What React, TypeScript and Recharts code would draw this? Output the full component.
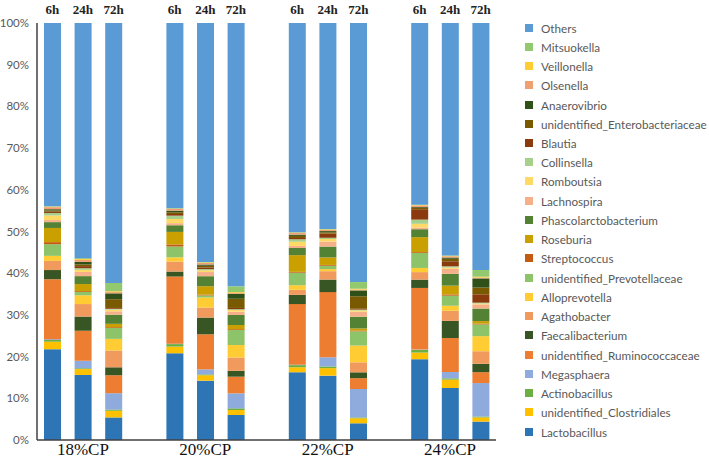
import React from "react";
import { BarChart, Bar, XAxis, YAxis, Legend } from "recharts";

// sample order, with empty slots between the diet groups
const groups = ["18%CP", "20%CP", "22%CP", "24%CP"];
const times = ["6h", "24h", "72h"];

// relative abundance (%), 12 samples: 18%CP 6/24/72h, 20%CP ..., 22%CP ..., 24%CP ...
const lactobacillus = [21.8, 15.6, 5.4, 20.8, 14.2, 6.0, 16.2, 15.4, 4.0, 19.4, 12.4, 4.4];
const clostridiales = [1.8, 1.4, 1.6, 1.6, 1.3, 1.2, 1.2, 1.8, 1.2, 1.6, 2.0, 1.0];
const actinobacillus = [0.4, 0.2, 0.3, 0.6, 0.2, 0.4, 0.5, 0.4, 0.2, 0.6, 0.3, 0.2];
const megasphaera = [0.2, 1.8, 3.9, 0.1, 1.2, 3.6, 0.1, 2.2, 6.8, 0.1, 1.5, 8.0];
const ruminococcaceae = [14.4, 7.2, 4.3, 16.1, 8.4, 4.0, 14.5, 15.6, 2.6, 14.8, 8.1, 2.6];
const faecalibacterium = [2.2, 3.4, 1.9, 1.2, 4.0, 1.4, 2.2, 3.0, 1.4, 2.0, 4.1, 2.0];
const agathobacter = [2.2, 3.0, 4.0, 2.4, 2.4, 3.2, 1.2, 2.0, 2.4, 1.8, 2.4, 3.0];
const alloprevotella = [1.2, 2.1, 2.8, 1.0, 2.4, 3.0, 1.1, 0.5, 4.0, 1.0, 1.2, 3.6];
const prevotellaceae = [2.8, 0.8, 2.6, 2.6, 0.5, 3.6, 3.0, 0.8, 3.4, 3.6, 2.4, 2.8];
const streptococcus = [0.5, 0.2, 0.2, 0.5, 0.2, 0.2, 0.2, 0.2, 0.2, 0.2, 0.3, 0.2];
const roseburia = [3.4, 1.7, 0.8, 3.0, 2.0, 1.0, 4.0, 1.8, 0.5, 3.6, 2.1, 0.6];
const phascolarctobacterium = [1.4, 1.9, 2.2, 1.6, 2.4, 2.4, 1.7, 2.6, 2.8, 1.9, 2.8, 3.0];
const lachnospira = [0.5, 1.0, 0.8, 0.5, 1.0, 0.8, 0.5, 1.2, 1.2, 0.4, 1.2, 1.0];
const romboutsia = [1.1, 0.5, 0.4, 1.0, 0.4, 0.4, 1.0, 0.6, 0.3, 0.9, 0.3, 0.2];
const collinsella = [0.6, 0.4, 0.2, 0.8, 0.3, 0.2, 0.6, 0.3, 0.2, 1.0, 0.3, 0.2];
const blautia = [0.3, 0.5, 0.2, 0.4, 0.4, 0.3, 0.3, 1.0, 0.2, 2.5, 1.2, 2.0];
const enterobacteriaceae = [0.3, 0.4, 2.1, 0.4, 0.4, 2.2, 0.5, 0.3, 3.0, 0.3, 0.6, 1.6];
const anaerovibrio = [0.3, 0.6, 1.4, 0.4, 0.3, 1.2, 0.3, 0.3, 1.4, 0.2, 0.3, 2.2];
const olsenella = [0.5, 0.5, 0.3, 0.4, 0.4, 0.2, 0.4, 0.3, 0.2, 0.4, 0.3, 0.2];
const veillonella = [0.1, 0.2, 0.2, 0.1, 0.1, 0.2, 0.1, 0.1, 0.2, 0.1, 0.1, 0.2];
const mitsuokella = [0.1, 0.2, 2.0, 0.1, 0.1, 1.4, 0.1, 0.1, 1.6, 0.1, 0.1, 1.6];
const others = [44.0, 56.4, 62.2, 44.4, 57.2, 63.2, 50.0, 49.3, 62.0, 43.6, 55.4, 59.0];

// bottom of the stack first
const series = [
  { key: "Lactobacillus", values: lactobacillus, color: "#2E75B6" },
  { key: "unidentified_Clostridiales", values: clostridiales, color: "#FFC000" },
  { key: "Actinobacillus", values: actinobacillus, color: "#6AAE44" },
  { key: "Megasphaera", values: megasphaera, color: "#8FAADC" },
  { key: "unidentified_Ruminococcaceae", values: ruminococcaceae, color: "#ED7D31" },
  { key: "Faecalibacterium", values: faecalibacterium, color: "#375623" },
  { key: "Agathobacter", values: agathobacter, color: "#F09A5E" },
  { key: "Alloprevotella", values: alloprevotella, color: "#FFCC33" },
  { key: "unidentified_Prevotellaceae", values: prevotellaceae, color: "#8DC46A" },
  { key: "Streptococcus", values: streptococcus, color: "#C55A11" },
  { key: "Roseburia", values: roseburia, color: "#C9A000" },
  { key: "Phascolarctobacterium", values: phascolarctobacterium, color: "#548235" },
  { key: "Lachnospira", values: lachnospira, color: "#F5B08A" },
  { key: "Romboutsia", values: romboutsia, color: "#FFD966" },
  { key: "Collinsella", values: collinsella, color: "#A8D08D" },
  { key: "Blautia", values: blautia, color: "#8B3A0E" },
  { key: "unidentified_Enterobacteriaceae", values: enterobacteriaceae, color: "#7A5A00" },
  { key: "Anaerovibrio", values: anaerovibrio, color: "#2F5119" },
  { key: "Olsenella", values: olsenella, color: "#F0A070" },
  { key: "Veillonella", values: veillonella, color: "#FFCC33" },
  { key: "Mitsuokella", values: mitsuokella, color: "#92C86E" },
  { key: "Others", values: others, color: "#5B9BD5" },
];

const rows: Record<string, any>[] = [];
groups.forEach((g, gi) => {
  if (gi > 0) rows.push({ id: `gap${gi}`, time: "", group: "" });
  times.forEach((t, ti) => {
    const row: Record<string, any> = { id: `${g}-${t}`, time: t, group: ti === 1 ? g : "" };
    series.forEach((s) => {
      row[s.key] = s.values[gi * 3 + ti];
    });
    rows.push(row);
  });
});

const yTicks = [0, 0.1, 0.2, 0.3, 0.4, 0.5, 0.6, 0.7, 0.8, 0.9, 1];

const TopTick = (props: any) => {
  const { x, y, payload } = props;
  const row = rows[payload.index];
  return (
    <text x={x} y={y - 1} textAnchor="middle" fontFamily="'Liberation Serif', serif" fontWeight="bold" fontSize={13} fill="#222">
      {row ? row.time : ""}
    </text>
  );
};

const BottomTick = (props: any) => {
  const { x, y, payload } = props;
  const row = rows[payload.index];
  return (
    <text x={x} y={y + 7} textAnchor="middle" fontFamily="'Liberation Serif', serif" fontSize={17} fill="#111">
      {row ? row.group : ""}
    </text>
  );
};

const LegendList = () => (
  <div style={{ fontFamily: "Lato, 'Open Sans', sans-serif", fontSize: 11.7, color: "#595959" }}>
    {[...series].reverse().map((s) => (
      <div key={s.key} style={{ display: "flex", alignItems: "center", height: 19.24, whiteSpace: "nowrap" }}>
        <span style={{ width: 8, height: 8, background: s.color, marginRight: 8, flex: "none" }} />
        <span>{s.key}</span>
      </div>
    ))}
  </div>
);

export default function App() {
  return (
    <div style={{ position: "absolute", left: 0, top: 0, width: 709, height: 460, background: "#fff" }}>
      <BarChart
        width={709}
        height={460}
        data={rows}
        stackOffset="expand"
        barSize={17}
        margin={{ top: 0, right: 29, bottom: 0, left: 0 }}
      >
        <XAxis
          dataKey="id"
          height={20}
          interval={0}
          tickLine={false}
          axisLine={{ stroke: "#404040", strokeWidth: 1.5 }}
          tick={<BottomTick />}
        />
        <XAxis
          xAxisId="top"
          orientation="top"
          dataKey="id"
          height={23}
          interval={0}
          tickLine={false}
          axisLine={false}
          tick={<TopTick />}
        />
        <YAxis
          width={37}
          domain={[0, 1]}
          ticks={yTicks}
          interval={0}
          tickLine={false}
          axisLine={{ stroke: "#404040", strokeWidth: 1.5 }}
          tickFormatter={(v: number) => `${Math.round(v * 100)}%`}
          tick={{ fontFamily: "Lato, 'Open Sans', sans-serif", fontSize: 11.5, fill: "#595959" }}
        />
        <Legend
          layout="vertical"
          align="right"
          verticalAlign="top"
          content={<LegendList />}
          wrapperStyle={{ left: 525, top: 18, width: 184 }}
        />
        {series.map((s) => (
          <Bar key={s.key} dataKey={s.key} stackId="a" fill={s.color} isAnimationActive={false} />
        ))}
      </BarChart>
    </div>
  );
}
